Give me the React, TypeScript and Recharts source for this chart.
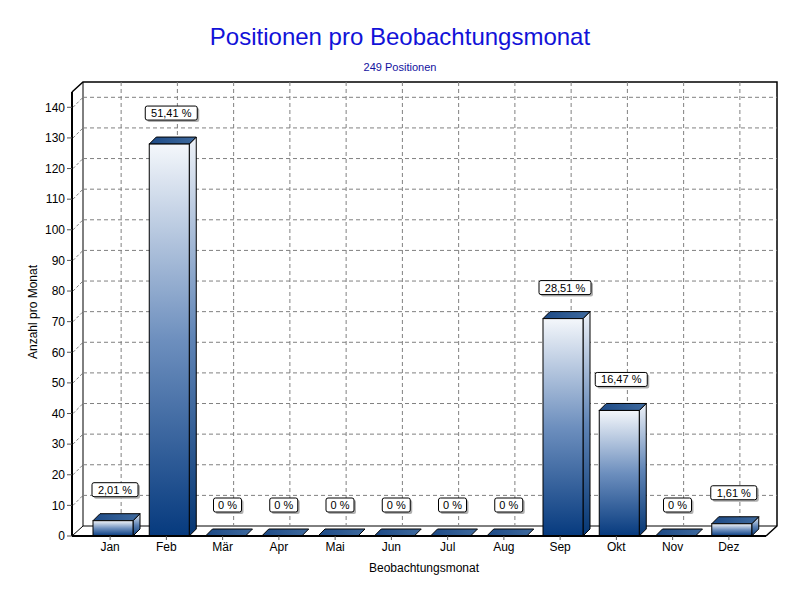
import React from "react";
import {
  BarChart,
  Bar,
  XAxis,
  YAxis,
  CartesianGrid,
  LabelList,
} from "recharts";

const monate = ["Jan", "Feb", "Mär", "Apr", "Mai", "Jun", "Jul", "Aug", "Sep", "Okt", "Nov", "Dez"];
const anzahl = [5, 128, 0, 0, 0, 0, 0, 0, 71, 41, 0, 4];
const prozent = ["2,01 %", "51,41 %", "0 %", "0 %", "0 %", "0 %", "0 %", "0 %", "28,51 %", "16,47 %", "0 %", "1,61 %"];
const yTicks = [0, 10, 20, 30, 40, 50, 60, 70, 80, 90, 100, 110, 120, 130, 140];

const daten = monate.map((m, i) => ({ monat: m, anzahl: anzahl[i], pct: prozent[i] }));

// Geometrie
const W = 800;
const H = 600;
const LEFT = 72;
const TOP = 92;
const RIGHT = 766;
const BOTTOM = 536;
const DX = 11; // Tiefe der Rückwand
const DY = 10;
const YMAX = 145;
const BDX = 7; // Tiefe der Balken
const BDY = 7;
const FONT = "'Liberation Sans', Arial, sans-serif";

const plotH = BOTTOM - TOP;
const yPix = (v: number) => BOTTOM - (v / YMAX) * plotH;

function Balken3D(props: any) {
  const { x, y, width, height } = props;
  const bx = x + 3;
  const h = Math.max(0, height);
  const top = y;
  if (h < 0.5) {
    const b = y + height;
    return (
      <polygon
        points={`${bx},${b} ${bx + BDX},${b - BDY} ${bx + width + BDX},${b - BDY} ${bx + width},${b}`}
        fill="url(#topFace)"
        stroke="#000"
        strokeWidth={1}
      />
    );
  }
  return (
    <g>
      <polygon
        points={`${bx + width},${top} ${bx + width + BDX},${top - BDY} ${bx + width + BDX},${top + h - BDY} ${bx + width},${top + h}`}
        fill="url(#sideFace)"
        stroke="#000"
        strokeWidth={1}
      />
      <polygon
        points={`${bx},${top} ${bx + BDX},${top - BDY} ${bx + width + BDX},${top - BDY} ${bx + width},${top}`}
        fill="url(#topFace)"
        stroke="#000"
        strokeWidth={1}
      />
      <rect x={bx} y={top} width={width} height={h} fill="url(#frontFace)" stroke="#000" strokeWidth={1} />
    </g>
  );
}

function ProzentLabel(props: any) {
  const { x, y, width, value } = props;
  const cx = x + width / 2 + 5;
  const cy = y - 31;
  const w = String(value).length * 6 + 10;
  return (
    <g>
      <rect x={cx - w / 2 + 2} y={cy - 7 + 2} width={w} height={14} rx={2} fill="#b0b0b0" />
      <rect x={cx - w / 2} y={cy - 7} width={w} height={14} rx={2} fill="#fff" stroke="#000" strokeWidth={1} />
      <text x={cx} y={cy + 4} textAnchor="middle" fontSize={11} fontFamily={FONT} fill="#000">
        {value}
      </text>
    </g>
  );
}

function Rueckwand() {
  return (
    <svg width={W} height={H} style={{ position: "absolute", left: 0, top: 0 }}>
      {yTicks.slice(1).map((v) => (
        <line
          key={v}
          x1={LEFT + 1}
          y1={yPix(v)}
          x2={LEFT + DX}
          y2={yPix(v) - DY}
          stroke="#808080"
          strokeDasharray="3 2"
        />
      ))}
      <polyline
        points={`${LEFT},${TOP} ${LEFT + DX},${TOP - DY} ${RIGHT + DX},${TOP - DY} ${RIGHT + DX},${BOTTOM - DY} ${RIGHT},${BOTTOM}`}
        fill="none"
        stroke="#000"
        strokeWidth={1.5}
      />
      <line x1={LEFT + DX} y1={TOP - DY} x2={LEFT + DX} y2={BOTTOM - DY} stroke="#000" strokeWidth={1} />
      <line x1={LEFT + DX} y1={BOTTOM - DY} x2={RIGHT + DX} y2={BOTTOM - DY} stroke="#000" strokeWidth={1} />
      <line x1={LEFT} y1={BOTTOM} x2={LEFT + DX} y2={BOTTOM - DY} stroke="#000" strokeWidth={1} />
    </svg>
  );
}

export default function App() {
  const bandStart = LEFT + 10;
  const band = (RIGHT - LEFT - 19) / monate.length;
  return (
    <div style={{ position: "absolute", left: 0, top: 0, width: W, height: H, background: "#fff", fontFamily: FONT }}>
      <Rueckwand />
      <div style={{ position: "absolute", left: 0, top: 0 }}>
        <BarChart
          width={W}
          height={H}
          data={daten}
          margin={{ top: TOP, right: W - RIGHT, left: LEFT - 40, bottom: H - BOTTOM - 30 }}
        >
          <defs>
            <linearGradient id="frontFace" x1="0" y1="0" x2="0" y2="1">
              <stop offset="0%" stopColor="#f4f7fb" />
              <stop offset="50%" stopColor="#6d8fbe" />
              <stop offset="100%" stopColor="#063a7e" />
            </linearGradient>
            <linearGradient id="sideFace" x1="0" y1="0" x2="0" y2="1">
              <stop offset="0%" stopColor="#eef2f8" />
              <stop offset="50%" stopColor="#5f84b6" />
              <stop offset="100%" stopColor="#053673" />
            </linearGradient>
            <linearGradient id="topFace" x1="0" y1="0" x2="1" y2="0">
              <stop offset="0%" stopColor="#1d4a86" />
              <stop offset="100%" stopColor="#3f6a9e" />
            </linearGradient>
          </defs>
          <CartesianGrid
            x={LEFT + DX}
            y={TOP - DY}
            width={RIGHT - LEFT}
            height={plotH}
            stroke="#808080"
            strokeDasharray="4 3"
            horizontalCoordinatesGenerator={() => yTicks.slice(1).map((v) => yPix(v) - DY)}
            verticalCoordinatesGenerator={() => monate.map((_, i) => bandStart + band * (i + 0.5) + DX)}
          />
          <XAxis
            dataKey="monat"
            height={30}
            padding={{ left: 10, right: 9 }}
            interval={0}
            axisLine={{ stroke: "#000", strokeWidth: 2 }}
            tickLine={{ stroke: "#555" }}
            tickSize={4}
            tick={{ fill: "#000", fontSize: 12, fontFamily: FONT }}
          />
          <YAxis
            width={40}
            domain={[0, YMAX]}
            ticks={yTicks}
            interval={0}
            axisLine={{ stroke: "#000", strokeWidth: 2 }}
            tickLine={{ stroke: "#555" }}
            tickSize={5}
            tick={{ fill: "#000", fontSize: 12, fontFamily: FONT }}
          />
          <Bar dataKey="anzahl" barSize={40} shape={Balken3D} isAnimationActive={false}>
            <LabelList dataKey="pct" content={ProzentLabel} />
          </Bar>
        </BarChart>
      </div>
      <div
        style={{
          position: "absolute",
          left: 0,
          width: W,
          top: 23,
          textAlign: "center",
          color: "#1212d8",
          fontSize: 24,
        }}
      >
        Positionen pro Beobachtungsmonat
      </div>
      <div
        style={{
          position: "absolute",
          left: 0,
          width: W,
          top: 61,
          textAlign: "center",
          color: "#1212a0",
          fontSize: 11,
        }}
      >
        249 Positionen
      </div>
      <div
        style={{
          position: "absolute",
          left: 348,
          width: 152,
          top: 561,
          textAlign: "center",
          color: "#000",
          fontSize: 12,
        }}
      >
        Beobachtungsmonat
      </div>
      <div
        style={{
          position: "absolute",
          left: 33 - 60,
          width: 120,
          top: 313 - 8,
          textAlign: "center",
          color: "#000",
          fontSize: 12,
          transform: "rotate(-90deg)",
        }}
      >
        Anzahl pro Monat
      </div>
    </div>
  );
}
